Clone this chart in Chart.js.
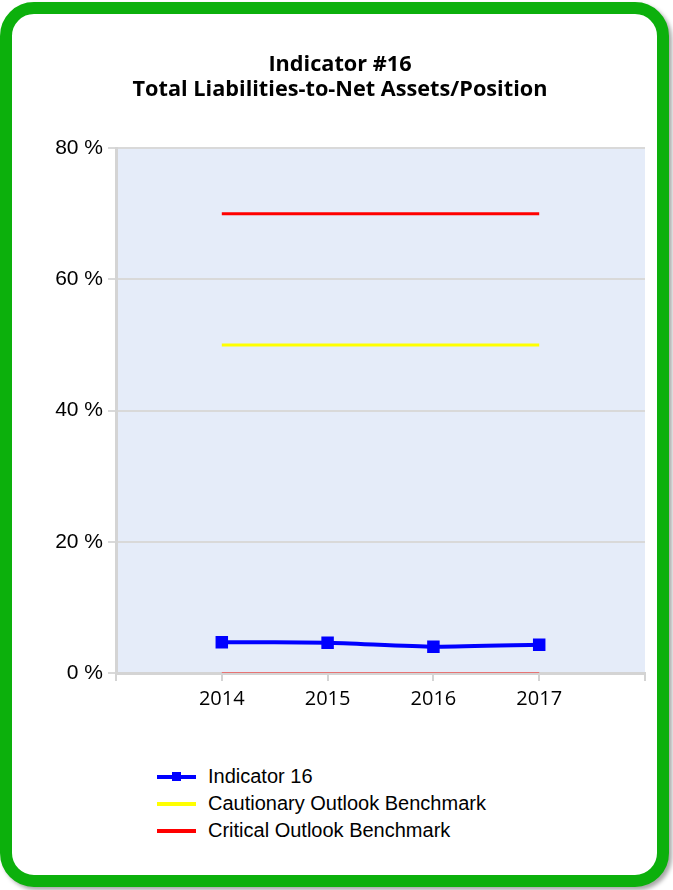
<!DOCTYPE html>
<html>
<head>
<meta charset="utf-8">
<script src="https://cdn.jsdelivr.net/npm/chart.js@4/dist/chart.umd.min.js"></script>
<style>
    html, body { margin: 0; padding: 0; background: #fff; }
    body { width: 673px; height: 890px; position: relative; overflow: hidden; }
    .card {
        position: absolute; left: 0; top: 2px; width: 669px; height: 885px;
        box-sizing: border-box; border: 12px solid #0cb00c; border-radius: 34px;
        background: #fff; box-shadow: 3px 3px 4px rgba(0,0,0,0.35);
    }
    #chart { position: absolute; left: 0; top: 0; }
    #legend { position: absolute; left: 157px; top: 763px; font-family: "Liberation Sans", Arial, sans-serif; font-size: 20px; color: #000; }
    .legend-item { position: relative; height: 27px; line-height: 27px; padding-left: 51px; }
    .legend-line { position: absolute; left: 0; top: 12px; width: 39px; height: 4px; }
    .legend-marker { position: absolute; left: 15px; top: 9px; width: 9px; height: 9px; }
</style>
</head>
<body>
<div class="card"></div>
<canvas id="chart" width="673" height="745"></canvas>
<div id="legend"></div>
<script>
// Chart data
const years = ['', '2014', '2015', '2016', '2017', ''];
const indicatorValues = [null, 4.7, 4.6, 4.0, 4.3, null];
const cautionaryValues = [null, 50, 50, 50, 50, null];
const criticalValues = [null, 70, 70, 70, 70, null];
const zeroLineValues = [null, 0, 0, 0, 0, null];
const yTicks = [0, 20, 40, 60, 80];

// Plot area background
const plotBackground = {
    id: 'plotBackground',
    beforeDraw(chart) {
        const { ctx, chartArea } = chart;
        ctx.save();
        ctx.fillStyle = '#e5ecf9';
        ctx.fillRect(chartArea.left, chartArea.top, chartArea.right - chartArea.left, chartArea.bottom - chartArea.top);
        ctx.restore();
    }
};

const ctx = document.getElementById('chart').getContext('2d');
const chart = new Chart(ctx, {
    type: 'line',
    data: {
        labels: years,
        datasets: [
            {
                label: 'Indicator 16',
                data: indicatorValues,
                borderColor: '#0000ff',
                backgroundColor: '#0000ff',
                borderWidth: 4,
                pointStyle: 'rect',
                pointRadius: 6,
                tension: 0.2,
                order: 0
            },
            {
                label: 'Cautionary Outlook Benchmark',
                data: cautionaryValues,
                borderColor: '#ffff00',
                backgroundColor: '#ffff00',
                borderWidth: 3,
                pointRadius: 0,
                order: 1
            },
            {
                label: 'Critical Outlook Benchmark',
                data: criticalValues,
                borderColor: '#ff0000',
                backgroundColor: '#ff0000',
                borderWidth: 3,
                pointRadius: 0,
                order: 2
            },
            {
                label: 'zero',
                data: zeroLineValues,
                borderColor: 'rgba(255,0,0,0.45)',
                borderWidth: 2,
                pointRadius: 0,
                order: 3,
                hideInLegend: true
            }
        ]
    },
    options: {
        responsive: false,
        animation: false,
        layout: { padding: { top: 52, left: 35, right: 28, bottom: 0 } },
        plugins: {
            legend: { display: false },
            tooltip: { enabled: false },
            title: {
                display: true,
                text: ['Indicator #16', 'Total Liabilities-to-Net Assets/Position'],
                color: '#000',
                font: { family: '"Open Sans", sans-serif', size: 21.7, weight: 'bold', lineHeight: 25 / 21.7 },
                padding: { top: 0, bottom: 46 }
            }
        },
        scales: {
            x: {
                offset: false,
                grid: { drawOnChartArea: false, drawTicks: true, tickLength: 8, color: '#d4d4d4', lineWidth: 2 },
                border: { color: '#d4d4d4', width: 3 },
                ticks: {
                    autoSkip: false, maxRotation: 0, padding: 6, color: '#000',
                    font: { family: '"Open Sans", sans-serif', size: 20 }
                },
                afterFit(scale) { scale.height = 72; }
            },
            y: {
                min: yTicks[0],
                max: yTicks[yTicks.length - 1],
                grid: { color: '#d9d9d9', lineWidth: 2, tickLength: 8 },
                border: { color: '#d4d4d4', width: 3 },
                afterBuildTicks(scale) { scale.ticks = yTicks.map(v => ({ value: v })); },
                ticks: {
                    padding: 5, color: '#000',
                    font: { family: '"Liberation Sans", Arial, sans-serif', size: 21 },
                    callback: v => v + ' %'
                },
                afterFit(scale) { scale.width = 81; }
            }
        }
    },
    plugins: [plotBackground]
});

// HTML legend built from the datasets
function renderLegend() {
    const legend = document.getElementById('legend');
    legend.innerHTML = chart.data.datasets
        .filter(ds => !ds.hideInLegend)
        .map(ds => `
            <div class="legend-item">
                <span class="legend-line" style="background:${ds.borderColor}"></span>
                ${ds.pointRadius ? `<span class="legend-marker" style="background:${ds.backgroundColor}"></span>` : ''}
                <span>${ds.label}</span>
            </div>
        `).join('');
}
renderLegend();
</script>
</body>
</html>
